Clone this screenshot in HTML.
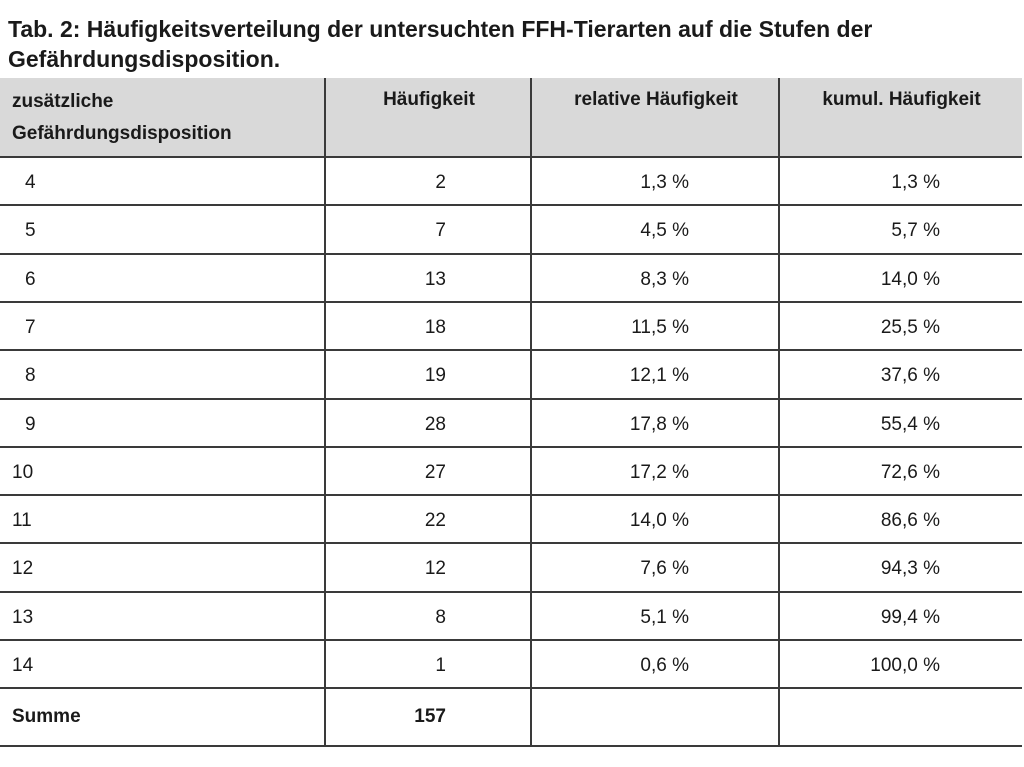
<!DOCTYPE html>
<html><head><meta charset="utf-8"><style>
body{margin:0;width:1024px;height:767px;background:#fff;font-family:"Liberation Sans",sans-serif;color:#1a1a1a;position:relative;overflow:hidden}
.t{position:absolute;white-space:nowrap;font-size:19px;line-height:22px}
.b{font-weight:bold}
.h{position:absolute;left:0;width:1022px;height:2px;background:#3a3a3a}
.v{position:absolute;width:2px;background:#3a3a3a}
</style></head><body>
<div class="t b" style="left:8px;top:14px;font-size:23px;line-height:30px">Tab. 2: Häufigkeitsverteilung der untersuchten FFH-Tierarten auf die Stufen der<br>Gefährdungsdisposition.</div>
<div style="position:absolute;left:0;top:78px;width:1022px;height:79px;background:#d9d9d9"></div>
<div class="t b" style="left:12px;top:86px;line-height:32px">zusätzliche<br>Gefährdungsdisposition</div>
<div class="t b" style="left:327px;width:204px;text-align:center;top:89px">Häufigkeit</div>
<div class="t b" style="left:533px;width:246px;text-align:center;top:89px">relative Häufigkeit</div>
<div class="t b" style="left:781px;width:241px;text-align:center;top:89px">kumul. Häufigkeit</div>
<div id="tbl"></div>
<script>
const levels=["4","5","6","7","8","9","10","11","12","13","14"];
const counts=["2","7","13","18","19","28","27","22","12","8","1"];
const rel=["1,3 %","4,5 %","8,3 %","11,5 %","12,1 %","17,8 %","17,2 %","14,0 %","7,6 %","5,1 %","0,6 %"];
const cum=["1,3 %","5,7 %","14,0 %","25,5 %","37,6 %","55,4 %","72,6 %","86,6 %","94,3 %","99,4 %","100,0 %"];
const total="157";
const T=document.getElementById('tbl');
function txt(s,style,cls){const d=document.createElement('div');d.className='t '+(cls||'');d.textContent=s;d.setAttribute('style',style);T.appendChild(d);return d;}
const top0=157,rh=48.3;
for(let i=0;i<levels.length;i++){
  const y=top0+i*rh, ty=y+15;
  let d=txt(levels[i],`left:${levels[i].length>1?12:25}px;top:${ty}px`);
  
  
  d=txt(counts[i],`right:${1024-446}px;top:${ty}px`);
  
  
  d=txt(rel[i],`right:${1024-689}px;top:${ty}px`);
  
  
  d=txt(cum[i],`right:${1024-940}px;top:${ty}px`);
  
  
}
const sy=top0+levels.length*rh;
let s=txt('Summe',`left:12px;top:${sy+18}px`,'b');


s=txt(total,`right:${1024-446}px;top:${sy+18}px`,'b');


for(let i=0;i<=levels.length;i++){
  const l=document.createElement('div');l.className='h';l.style.top=(top0+i*rh-1)+'px';
  
  
  T.appendChild(l);
}
const lb=document.createElement('div');lb.className='h';lb.style.top='745px';


T.appendChild(lb);
[324,530,778].forEach(x=>{
  const v=document.createElement('div');v.className='v';v.style.left=x+'px';v.style.top='78px';v.style.height='668px';
  
  
  T.appendChild(v);
});
</script>
</body></html>
